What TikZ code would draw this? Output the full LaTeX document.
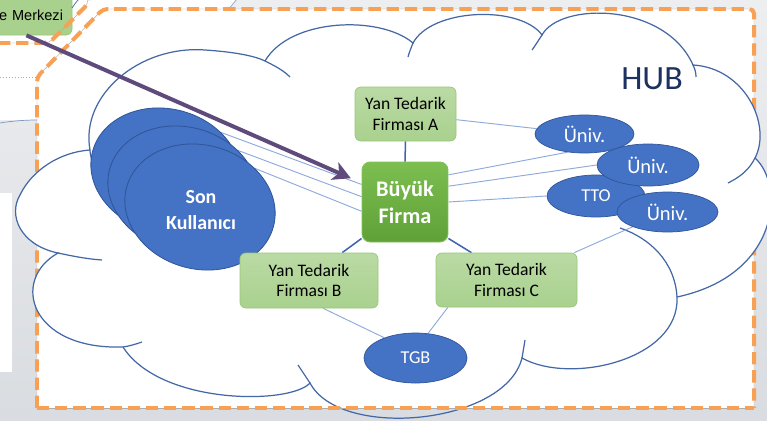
\documentclass[tikz,border=0pt]{standalone}
\usepackage{fontspec}
\setmainfont{Carlito}
\newfontfamily\arialfont{Liberation Sans}
\usetikzlibrary{shapes.geometric,arrows.meta}
\pgfdeclarelayer{back}
\pgfdeclarelayer{lines}
\pgfdeclarelayer{front}
\pgfsetlayers{back,lines,main,front}

\definecolor{bgtop}{HTML}{EDEEF0}
\definecolor{bgbot}{HTML}{D9DCE0}
\definecolor{frameorange}{HTML}{F8A053}
\definecolor{framegrey}{HTML}{A9ADB2}
\definecolor{cloudline}{HTML}{4468A6}
\definecolor{blueshape}{HTML}{4472C4}
\definecolor{blueedge}{HTML}{2F5597}
\definecolor{lightgreen}{HTML}{A9D18E}
\definecolor{lightgreenedge}{HTML}{98C878}
\definecolor{bftop}{HTML}{7CBE50}
\definecolor{bfbot}{HTML}{5FA137}
\definecolor{bfedge}{HTML}{82C159}
\definecolor{treeline}{HTML}{3D65AE}
\definecolor{thinline}{HTML}{8FAADC}
\definecolor{arrowpurple}{HTML}{5F4A7C}
\definecolor{hubnavy}{HTML}{1C3160}

\tikzset{
  framedash/.style={frameorange, line width=3.4pt, dash pattern=on 10.5pt off 5pt},
  frameunder/.style={framegrey, line width=0.4pt},
  cloudstroke/.style={cloudline, line width=1.05pt},
  ytf/.style={rectangle, rounded corners=5pt, draw=lightgreenedge, line width=0.6pt,
    top color=lightgreen!80!white, bottom color=lightgreen, align=center,
    inner sep=0pt, font=\fontsize{15}{17.5}\selectfont, text=black},
  bigfirm/.style={rectangle, rounded corners=7pt, draw=bfedge, line width=0.8pt,
    top color=bftop, bottom color=bfbot, align=center, inner sep=0pt,
    minimum width=2.58cm, minimum height=2.4cm, text=white,
    font=\bfseries\fontsize{19}{23}\selectfont},
  blueoval/.style={ellipse, fill=blueshape, draw=blueedge, line width=0.6pt,
    inner sep=0pt, text=white, font=\fontsize{17.5}{20}\selectfont},
  userset/.style={ellipse, fill=blueshape, draw=blueedge, line width=0.7pt,
    minimum width=4.56cm, minimum height=3.72cm, rotate=-15},
  thinlink/.style={thinline, line width=0.8pt},
  treelink/.style={treeline, line width=1.3pt},
}

\begin{document}
\begin{tikzpicture}[x=0.03cm, y=-0.03cm]
\useasboundingbox (0,0) rectangle (767,420);
\clip (0,0) rectangle (767,420);

% ---------- nodes ----------
\node[userset] (e1) at (166,171) {};
\node[userset] (e2) at (183,189) {};
\node[userset] (e3) at (200,207) {};
\node[align=center, text=white, font=\bfseries\fontsize{17}{22}\selectfont] (sk) at (201,210) {Son\\Kullanıcı};

\node[ytf, minimum width=3.03cm, minimum height=1.62cm] (ya) at (405.5,114) {Yan Tedarik\\Firması A};
\node[ytf, minimum width=4.14cm, minimum height=1.65cm] (yb) at (309,280.5) {Yan Tedarik\\Firması B};
\node[ytf, minimum width=4.23cm, minimum height=1.62cm] (yc) at (506.5,280) {Yan Tedarik\\Firması C};
\node[bigfirm] (bf) at (405,202) {Büyük\\Firma};

\node[blueoval, minimum width=2.97cm, minimum height=1.14cm] (u1) at (584.5,134) {Üniv.};
\node[blueoval, minimum width=2.94cm, minimum height=1.26cm, font=\fontsize{15.5}{18}\selectfont] (tto) at (596,196) {TTO};
\node[blueoval, minimum width=3.06cm, minimum height=1.26cm] (u2) at (648,165) {Üniv.};
\node[blueoval, minimum width=3.03cm, minimum height=1.20cm] (u3) at (667.5,212) {Üniv.};
\node[blueoval, minimum width=3.09cm, minimum height=1.50cm, font=\fontsize{15.5}{18}\selectfont] (tgb) at (415.5,358) {TGB};

\node[text=hubnavy, font=\fontsize{29}{34}\selectfont] (hub) at (652,79) {HUB};

\node[rectangle, rounded corners=5pt, fill=lightgreen, draw=lightgreenedge, line width=0.6pt,
      text width=2.52cm, align=right, inner xsep=0.27cm, inner ysep=0pt,
      minimum height=1.2cm, font=\arialfont\fontsize{12.4}{14}\selectfont] (mk) at (21,15) {e Merkezi};

% ---------- slide background, frames and cloud ----------
\begin{pgfonlayer}{back}
  \fill[top color=bgtop, bottom color=bgbot] (0,0) rectangle (767,420);
  \fill[white] (0,-1) -- (236,-1) -- (228,9) -- (103,9) -- (37,77) -- (37,120) -- (0,120) -- cycle;
  \fill[white] (0,193) rectangle (12,372);
  \fill[white] (37,408) -- (37,77) -- (103,9) -- (754,9) -- (754,408) -- cycle;
  \draw[blueedge!60, line width=0.5pt] (228,10) -- (237,-1);
  \draw[framegrey, dotted, line width=0.5pt] (0,77) -- (37,77);
  \draw[cloudline!70, line width=0.6pt] (0,123) .. controls (12,121) and (25,120) .. (37,120);

  % main dashed frame (bottom edge comes later)
  \draw[frameunder, rounded corners=4pt] (37,408) -- (37,77) -- (103,9) -- (754,9) -- (754,408);
  \draw[framedash, rounded corners=4pt] (37,408) -- (37,77) -- (103,9) -- (754,9) -- (754,408);

  % cloud body
  \begin{scope}
    \clip (0,-5) rectangle (767,408);
    \fill[white] (90,150) .. controls (80,95) and (140,45) .. (205,50)
      .. controls (235,52) and (255,56) .. (265,61)
      .. controls (290,18) and (380,15) .. (413,43)
      .. controls (432,8) and (520,5) .. (542,35)
      .. controls (560,2) and (665,2) .. (693,65)
      .. controls (745,68) and (772,125) .. (755,158)
      .. controls (785,185) and (780,275) .. (677,297)
      .. controls (680,360) and (570,385) .. (522,358)
      .. controls (505,425) and (340,440) .. (310,383)
      .. controls (290,405) and (160,405) .. (123,347)
      .. controls (30,350) and (10,280) .. (58,253)
      .. controls (20,245) and (8,215) .. (20,195)
      .. controls (32,170) and (60,152) .. (90,150) -- cycle;
  \end{scope}
  \draw[cloudstroke] (90,150) .. controls (80,95) and (140,45) .. (205,50)
      .. controls (235,52) and (255,56) .. (265,61)
      .. controls (290,18) and (380,15) .. (413,43)
      .. controls (432,8) and (520,5) .. (542,35)
      .. controls (560,2) and (665,2) .. (693,65)
      .. controls (745,68) and (772,125) .. (755,158)
      .. controls (785,185) and (780,275) .. (677,297)
      .. controls (680,360) and (570,385) .. (522,358)
      .. controls (505,425) and (340,440) .. (310,383)
      .. controls (290,405) and (160,405) .. (123,347)
      .. controls (30,350) and (10,280) .. (58,253)
      .. controls (20,245) and (8,215) .. (20,195)
      .. controls (32,170) and (60,152) .. (90,150);
  % inner ends of the cloud puffs
  \draw[cloudstroke]
    (265,61) .. controls (275,66) and (283,70) .. (290,77)
    (413,43) .. controls (411,48) and (409,53) .. (408,57)
    (542,35) .. controls (538,41) and (535,46) .. (532,50)
    (693,65) .. controls (695,69) and (696,73) .. (696,77)
    (755,158) .. controls (749,170) and (740,177) .. (728,183)
    (677,297) .. controls (675,262) and (650,238) .. (620,228)
    (522,358) .. controls (523,352) and (524,346) .. (525,340)
    (310,383) .. controls (306,377) and (302,371) .. (298,365)
    (123,347) .. controls (130,346) and (136,344) .. (142,342)
    (58,253) .. controls (72,256) and (87,259) .. (102,260)
    (90,150) .. controls (90,153) and (91,157) .. (92,161);

  % bottom edge of the frame, over the cloud
  \draw[frameunder] (37,408) -- (754,408);
  \draw[framedash] (37,408) -- (754,408);
\end{pgfonlayer}

% ---------- connectors ----------
\begin{pgfonlayer}{lines}
  \draw[thinlink] (e1.50) -- (bf.158);
  \draw[thinlink] (e2.50) -- (bf.173);
  \draw[thinlink] (e3.50) -- (bf.192);
  \draw[thinlink] (ya) -- (u1);
  \draw[thinlink] (bf.32) -- (u1.227);
  \draw[thinlink] (bf.20) -- (u2.180);
  \draw[thinlink] (bf.east) -- (tto.west);
  \draw[thinlink] (yc.22) -- (u3.203);
  \draw[thinlink] (yb.297) -- (tgb.147);
  \draw[thinlink] (yc.205) -- (tgb.63);
  \draw[treelink] (bf.north) -- (ya.south);
  \draw[treelink] (bf.220) -- (yb.40);
  \draw[treelink] (bf.320) -- (yc.142);
\end{pgfonlayer}

% ---------- earlier frame and the arrow ----------
\begin{pgfonlayer}{front}
  \draw[cloudline, line width=0.6pt] (72,8) .. controls (74,5) and (76,2) .. (79,-1);
  \draw[frameunder, rounded corners=4pt] (-2,43) -- (49,43) -- (88,4) -- (88,-5);
  \draw[framedash, rounded corners=4pt] (-2,43) -- (49,43) -- (88,4) -- (88,-5);
  \draw[arrowpurple, line width=3.4pt, shorten >=10pt,
        -{Stealth[length=15pt, width=16pt, inset=4pt]}] (mk.-75) -- (bf);
\end{pgfonlayer}
\end{tikzpicture}
\end{document}
